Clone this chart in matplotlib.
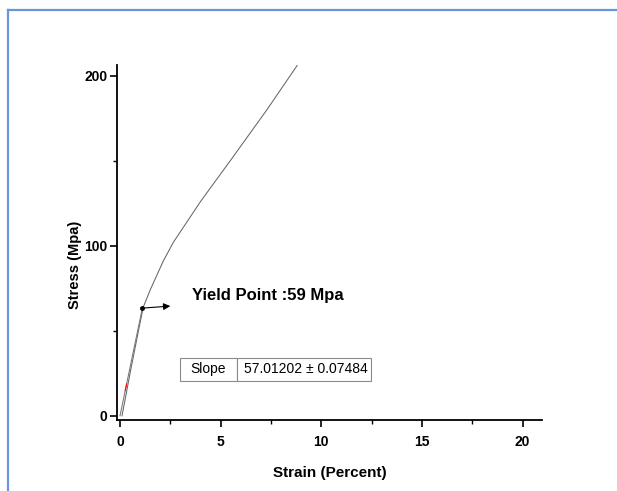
import matplotlib.pyplot as plt
from matplotlib.lines import Line2D

plt.rcParams['font.family'] = ['Liberation Sans', 'DejaVu Sans']

# measured stress-strain curve
strain = [0.1, 0.5, 0.95, 1.16, 1.5, 2.15, 2.65, 4.0, 5.6, 7.3, 8.8]
stress = [0, 25, 52, 64, 74, 91, 102, 126, 152, 180, 206]

# linear fit of elastic part
fit_strain = [0, 1.11]
fit_stress = [0, 63.3]
fit_range_strain = [0.26, 0.33]
fit_range_stress = [14.8, 18.8]

yield_strain = 1.11
yield_stress = 63.3
slope_text = ["Slope", "57.01202 \u00b1 0.07484"]

fig = plt.figure(figsize=(6.17, 4.91), dpi=100)
ax = fig.add_axes([0.1896, 0.1446, 0.6884, 0.722])

ax.plot(strain, stress, color='#666666', lw=0.75)
ax.plot(fit_strain, fit_stress, color='#777777', lw=0.75)
ax.plot(fit_range_strain, fit_range_stress, color='red', lw=0.75)
ax.plot(yield_strain, yield_stress, 'o', color='black', ms=2.5)
ax.annotate('', xy=(2.5, 64.5), xytext=(yield_strain, yield_stress),
            arrowprops=dict(arrowstyle='-|>', color='black', lw=0.8,
                            mutation_scale=10, shrinkA=0, shrinkB=0))
ax.text(3.6, 70.5, "Yield Point :59 Mpa", fontsize=12, fontweight='bold',
        va='center', ha='left')

tbl = ax.table(cellText=[slope_text], colWidths=[0.3, 0.7],
               bbox=[0.148, 0.110, 0.45, 0.065], cellLoc='left')
tbl.auto_set_font_size(False)
tbl.set_fontsize(10)
for cell in tbl.get_celld().values():
    cell.set_edgecolor('#8a8a8a')
    cell.set_linewidth(0.8)
    cell.PAD = 0.05
tbl[0, 0]._loc = 'center'
tbl[0, 0].get_text().set_ha('center')

ax.set_xlim(-0.15, 20.95)
ax.set_ylim(-2.5, 206)
ax.set_xticks([0, 5, 10, 15, 20])
ax.set_xticks([2.5, 7.5, 12.5, 17.5], minor=True)
ax.set_yticks([0, 100, 200])
ax.set_yticks([50, 150], minor=True)
ax.tick_params(which='major', direction='out', length=5, width=1.2,
               labelsize=10, pad=2)
ax.tick_params(axis='x', which='major', pad=6)
ax.tick_params(which='minor', direction='out', length=3, width=1.0)
for lab in ax.get_xticklabels() + ax.get_yticklabels():
    lab.set_fontweight('bold')

for side in ['top', 'right']:
    ax.spines[side].set_visible(False)
for side in ['left', 'bottom']:
    ax.spines[side].set_linewidth(1.3)

ax.set_xlabel("Strain (Percent)", fontsize=11, fontweight='bold', labelpad=12)
ax.set_ylabel("Stress (Mpa)", fontsize=10.5, fontweight='bold')
ax.yaxis.set_label_coords(-0.082, 0.437)

# blue frame around the picture
fig.add_artist(Line2D([8 / 617, 1], [1 - 10 / 491, 1 - 10 / 491],
                      transform=fig.transFigure, color='#6a95dc', lw=1.6))
fig.add_artist(Line2D([8 / 617, 8 / 617], [0, 1 - 10 / 491],
                      transform=fig.transFigure, color='#6a95dc', lw=1.6))

fig.savefig("out.png", dpi=100)
